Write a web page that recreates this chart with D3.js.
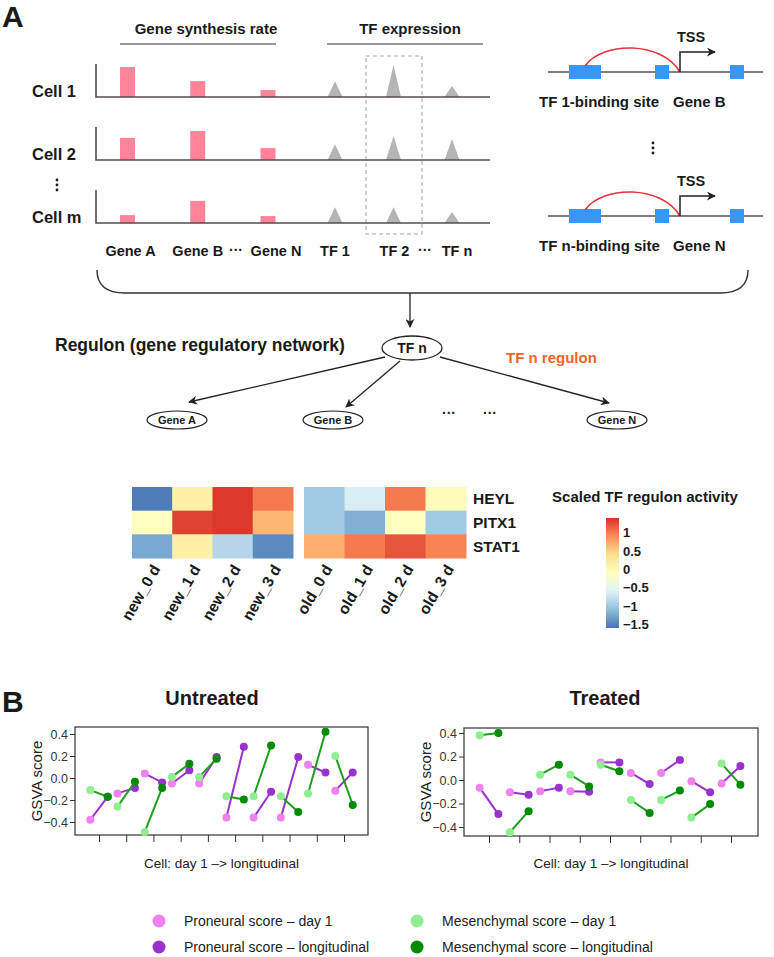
<!DOCTYPE html>
<html>
<head>
<meta charset="utf-8">
<script src="https://cdn.jsdelivr.net/npm/d3@7"></script>
<style>
  body { margin: 0; background: #fff; }
  svg text { font-family: "Liberation Sans", Arial, Helvetica, sans-serif; }
</style>
</head>
<body>
<svg id="fig" width="774" height="957"></svg>
<script>
// ---------- data ----------
var cells = ["Cell 1", "Cell 2", "Cell m"];
var genes = ["Gene A", "Gene B", "Gene N"];
var tfs = ["TF 1", "TF 2", "TF n"];
// relative heights (0-1) per cell
var geneRate = [[0.91, 0.48, 0.21], [0.67, 0.88, 0.36], [0.24, 0.67, 0.21]];
var tfExpr = [[0.48, 0.97, 0.33], [0.48, 0.73, 0.64], [0.48, 0.48, 0.33]];

var netTargets = ["Gene A", "Gene B", "Gene N"];

var hmRows = ["HEYL", "PITX1", "STAT1"];
var hmNewCols = ["new_0 d", "new_1 d", "new_2 d", "new_3 d"];
var hmOldCols = ["old_0 d", "old_1 d", "old_2 d", "old_3 d"];
var hmNew = [[-1.55, 0.15, 1.35, 1.0], [-0.1, 1.3, 1.35, 0.65], [-1.25, 0.15, -0.88, -1.46]];
var hmOld = [[-1.0, -0.65, 1.0, -0.05], [-1.0, -1.2, -0.1, -1.0], [0.7, 1.0, 1.2, 0.95]];
var hmTicks = [1, 0.5, 0, -0.5, -1, -1.5];
var hmPalette = ["#4575B4", "#91BFDB", "#E0F3F8", "#FFFFBF", "#FEE090", "#FC8D59", "#D73027"];

var gsvaTicks = [-0.4, -0.2, 0, 0.2, 0.4];
// untreated: 10 cells
var unPN1 = [-0.38, -0.14, 0.04, -0.05, -0.05, -0.36, -0.36, -0.36, 0.12, -0.115];
var unPNL = [-0.17, -0.09, -0.04, 0.07, 0.19, 0.285, -0.125, 0.19, 0.05, 0.05];
var unMS1 = [-0.11, -0.26, -0.49, 0.01, 0.01, -0.165, -0.165, -0.165, -0.14, 0.2];
var unMSL = [-0.17, -0.035, -0.09, 0.13, 0.175, -0.195, 0.295, -0.31, 0.42, -0.245];
// treated: 9 cells
var trPN1 = [-0.065, -0.105, -0.095, -0.095, 0.15, 0.06, 0.06, -0.01, -0.03];
var trPNL = [-0.29, -0.125, -0.065, -0.10, 0.15, -0.035, 0.17, -0.105, 0.12];
var trMS1 = [0.38, -0.445, 0.045, 0.045, 0.13, -0.17, -0.17, -0.32, 0.14];
var trMSL = [0.40, -0.265, 0.13, -0.055, 0.075, -0.28, -0.09, -0.205, -0.04];

var legendLabels = ["Proneural score \u2013 day 1", "Proneural score \u2013 longitudinal",
  "Mesenchymal score \u2013 day 1", "Mesenchymal score \u2013 longitudinal"];
var legendColors = ["#ee82ee", "#9932cc", "#90ee90", "#008b00"];

// ---------- setup ----------
var svg = d3.select("#fig");
var ink = "#1a1a1a";

var defs = svg.append("defs");
defs.append("marker")
  .attr("id", "arr")
  .attr("viewBox", "0 0 10 10")
  .attr("refX", 9).attr("refY", 5)
  .attr("markerWidth", 9).attr("markerHeight", 9)
  .attr("markerUnits", "userSpaceOnUse")
  .attr("orient", "auto")
  .append("path").attr("d", "M0,0 L10,5 L0,10 L3,5 Z").attr("fill", "#222");

function bold(sel, size) {
  return sel.attr("font-weight", "bold").attr("font-size", size).attr("fill", ink);
}

// ---------- panel A: bars ----------
bold(svg.append("text").attr("x", 2).attr("y", 27).text("A"), 30);

bold(svg.append("text").attr("x", 206).attr("y", 34).attr("text-anchor", "middle")
  .text("Gene synthesis rate"), 15);
bold(svg.append("text").attr("x", 410).attr("y", 34).attr("text-anchor", "middle")
  .text("TF expression"), 15);
svg.append("line").attr("x1", 120).attr("x2", 276).attr("y1", 44).attr("y2", 44)
  .attr("stroke", "#333").attr("stroke-width", 1.2);
svg.append("line").attr("x1", 327).attr("x2", 483).attr("y1", 44).attr("y2", 44)
  .attr("stroke", "#333").attr("stroke-width", 1.2);

var rowY = d3.scalePoint().domain(cells).range([97, 223]);
var geneX = d3.scalePoint().domain(genes).range([127.5, 268]);
var tfX = d3.scalePoint().domain(tfs).range([335, 452]);
var hY = d3.scaleLinear().domain([0, 1]).range([0, 33]);

// dashed box around TF 2
svg.append("rect").attr("x", 366).attr("y", 56).attr("width", 56).attr("height", 178)
  .attr("fill", "none").attr("stroke", "#aaa").attr("stroke-width", 1.1)
  .attr("stroke-dasharray", "4,3");

cells.forEach(function(c, i) {
  var y0 = rowY(c);
  var g = svg.append("g");
  g.selectAll("rect.bar").data(geneRate[i]).enter().append("rect")
    .attr("x", function(d, j) { return geneX(genes[j]) - 7.5; })
    .attr("y", function(d) { return y0 - hY(d); })
    .attr("width", 15)
    .attr("height", function(d) { return hY(d); })
    .attr("fill", "#ff8399");
  g.selectAll("path.tri").data(tfExpr[i]).enter().append("path")
    .attr("d", function(d, j) {
      var cx = tfX(tfs[j]);
      return "M" + (cx - 7.5) + "," + y0 + " L" + cx + "," + (y0 - hY(d)) + " L" + (cx + 7.5) + "," + y0 + " Z";
    })
    .attr("fill", "#b5b5b5");
  g.append("path").attr("d", "M96," + (y0 - 33) + " V" + y0 + " H490")
    .attr("fill", "none").attr("stroke", "#554c4c").attr("stroke-width", 1.6);
  bold(g.append("text").attr("x", 32).attr("y", y0 - 0.5).text(c), 16.5);
});
// vertical dots between Cell 2 and Cell m
[180, 185, 190].forEach(function(y) {
  svg.append("circle").attr("cx", 57).attr("cy", y).attr("r", 1.4).attr("fill", ink);
});

// item labels
var labelY = 256;
genes.forEach(function(gn, j) {
  var off = [3, 0, 8][j];
  bold(svg.append("text").attr("x", geneX(gn) + off).attr("y", labelY)
    .attr("text-anchor", "middle").text(gn), 14.5);
});
tfs.forEach(function(t, j) {
  var off = [0, 1, 5][j];
  bold(svg.append("text").attr("x", tfX(t) + off).attr("y", labelY)
    .attr("text-anchor", "middle").text(t), 14.5);
});
bold(svg.append("text").attr("x", 236).attr("y", labelY - 1).attr("text-anchor", "middle").text("\u00b7\u00b7\u00b7"), 14);
bold(svg.append("text").attr("x", 425).attr("y", labelY - 1).attr("text-anchor", "middle").text("\u00b7\u00b7\u00b7"), 14);

// ---------- panel A: loci ----------
function drawLocus(y0, tfLabel, geneLabel) {
  var g = svg.append("g");
  g.append("line").attr("x1", 548).attr("x2", 763).attr("y1", y0).attr("y2", y0)
    .attr("stroke", "#555").attr("stroke-width", 1.5);
  [[569, 32], [655, 14], [730, 14]].forEach(function(b) {
    g.append("rect").attr("x", b[0]).attr("y", y0 - 7).attr("width", b[1]).attr("height", 14)
      .attr("fill", "#3797f5");
  });
  g.append("path")
    .attr("d", "M585," + (y0 - 6) + " C603," + (y0 - 31) + " 662," + (y0 - 31) + " 680," + y0)
    .attr("fill", "none").attr("stroke", "#e8313a").attr("stroke-width", 1.5);
  g.append("path").attr("d", "M680," + y0 + " V" + (y0 - 20) + " H715")
    .attr("fill", "none").attr("stroke", "#222").attr("stroke-width", 1.5)
    .attr("marker-end", "url(#arr)");
  bold(g.append("text").attr("x", 691).attr("y", y0 - 30).attr("text-anchor", "middle").text("TSS"), 14.5);
  bold(g.append("text").attr("x", 539).attr("y", y0 + 35).text(tfLabel), 15);
  bold(g.append("text").attr("x", 673).attr("y", y0 + 35).text(geneLabel), 15);
}
drawLocus(72, "TF 1-binding site", "Gene B");
drawLocus(216, "TF n-binding site", "Gene N");
[143, 148, 153].forEach(function(y) {
  svg.append("circle").attr("cx", 653).attr("cy", y).attr("r", 1.4).attr("fill", ink);
});

// brace + arrow
svg.append("path")
  .attr("d", "M97,270 Q97,293 125,293 L720,293 Q748,293 748,270")
  .attr("fill", "none").attr("stroke", "#333").attr("stroke-width", 1.4);
svg.append("line").attr("x1", 410).attr("x2", 410).attr("y1", 293).attr("y2", 327)
  .attr("stroke", "#222").attr("stroke-width", 1.3).attr("marker-end", "url(#arr)");

// ---------- regulon network ----------
bold(svg.append("text").attr("x", 55).attr("y", 351).text("Regulon (gene regulatory network)"), 17.5);
svg.append("ellipse").attr("cx", 412).attr("cy", 348).attr("rx", 30).attr("ry", 12)
  .attr("fill", "#fff").attr("stroke", "#222").attr("stroke-width", 1.3);
bold(svg.append("text").attr("x", 412).attr("y", 353).attr("text-anchor", "middle").text("TF n"), 14);
bold(svg.append("text").attr("x", 506).attr("y", 363).text("TF n regulon"), 15).attr("fill", "#f26522");

var nodeX = d3.scaleOrdinal().domain(netTargets).range([177, 333, 617]);
var arrowFrom = [[385, 357], [400, 361], [440, 357]];
var arrowTo = [[189, 402], [346, 407], [609, 403]];
netTargets.forEach(function(n, i) {
  svg.append("line")
    .attr("x1", arrowFrom[i][0]).attr("y1", arrowFrom[i][1])
    .attr("x2", arrowTo[i][0]).attr("y2", arrowTo[i][1])
    .attr("stroke", "#222").attr("stroke-width", 1.3).attr("marker-end", "url(#arr)");
  svg.append("ellipse").attr("cx", nodeX(n)).attr("cy", 420).attr("rx", 30).attr("ry", 9)
    .attr("fill", "#fff").attr("stroke", "#222").attr("stroke-width", 1.2);
  bold(svg.append("text").attr("x", nodeX(n)).attr("y", 424).attr("text-anchor", "middle").text(n), 11);
});
bold(svg.append("text").attr("x", 449).attr("y", 418).attr("text-anchor", "middle").text("\u00b7\u00b7\u00b7"), 14);
bold(svg.append("text").attr("x", 490).attr("y", 418).attr("text-anchor", "middle").text("\u00b7\u00b7\u00b7"), 14);

// ---------- heatmap ----------
var hmLo = -1.6, hmHi = 1.4;
var hmColor = d3.scaleLinear()
  .domain(d3.range(7).map(function(i) { return hmLo + i * (hmHi - hmLo) / 6; }))
  .range(hmPalette)
  .interpolate(d3.interpolateRgb);

var rowScale = d3.scaleBand().domain(hmRows).range([487, 558]);
var newX = d3.scaleBand().domain(hmNewCols).range([132, 293]);
var oldX = d3.scaleBand().domain(hmOldCols).range([304, 466]);

function drawBlock(cols, xs, vals) {
  var cellsData = [];
  hmRows.forEach(function(r, i) {
    cols.forEach(function(c, j) { cellsData.push({ r: r, c: c, v: vals[i][j] }); });
  });
  svg.append("g").selectAll("rect").data(cellsData).enter().append("rect")
    .attr("x", function(d) { return xs(d.c); })
    .attr("y", function(d) { return rowScale(d.r); })
    .attr("width", xs.bandwidth() + 0.5)
    .attr("height", rowScale.bandwidth() + 0.5)
    .attr("fill", function(d) { return hmColor(d.v); });
  svg.append("g").selectAll("text").data(cols).enter().append("text")
    .attr("transform", function(c) {
      return "translate(" + (xs(c) + xs.bandwidth() / 2 + 4) + ",566) rotate(-60)";
    })
    .attr("text-anchor", "end").attr("dy", "0.35em")
    .attr("font-weight", "bold").attr("font-size", 15.5).attr("fill", ink)
    .text(function(c) { return c; });
}
drawBlock(hmNewCols, newX, hmNew);
drawBlock(hmOldCols, oldX, hmOld);

svg.append("g").selectAll("text").data(hmRows).enter().append("text")
  .attr("x", 473).attr("y", function(r) { return rowScale(r) + rowScale.bandwidth() / 2; })
  .attr("dy", "0.36em").attr("font-weight", "bold").attr("font-size", 15.5).attr("fill", ink)
  .text(function(r) { return r; });

// colour key
bold(svg.append("text").attr("x", 645).attr("y", 502).attr("text-anchor", "middle")
  .text("Scaled TF regulon activity"), 15);
var keyY = d3.scaleLinear().domain([hmLo, hmHi]).range([628, 518]);
var grad = defs.append("linearGradient").attr("id", "keygrad")
  .attr("x1", 0).attr("y1", 1).attr("x2", 0).attr("y2", 0);
d3.range(0, 1.0001, 0.05).forEach(function(t) {
  grad.append("stop").attr("offset", t).attr("stop-color", hmColor(hmLo + t * (hmHi - hmLo)));
});
svg.append("rect").attr("x", 606).attr("y", 518).attr("width", 13).attr("height", 110)
  .attr("fill", "url(#keygrad)");
svg.append("g").selectAll("text").data(hmTicks).enter().append("text")
  .attr("x", 623).attr("y", function(v) { return keyY(v); }).attr("dy", "0.36em")
  .attr("font-weight", "bold").attr("font-size", 13).attr("fill", ink)
  .text(function(v) { return d3.format("")(v).replace("-", "\u2212"); });

// ---------- panel B ----------
bold(svg.append("text").attr("x", 2).attr("y", 712).text("B"), 30);

function drawGsva(o) {
  var x = d3.scaleLinear().domain([1, o.n]).range(o.xr);
  var y = d3.scaleLinear().domain([-0.4, 0.4]).range(o.yr);
  var g = svg.append("g");
  bold(g.append("text").attr("x", o.titleX).attr("y", 705)
    .attr("text-anchor", "middle").text(o.title), 20);
  g.append("rect").attr("x", o.box[0]).attr("y", o.box[1])
    .attr("width", o.box[2] - o.box[0]).attr("height", o.box[3] - o.box[1])
    .attr("fill", "none").attr("stroke", "#333").attr("stroke-width", 1.2);

  var ya = g.append("g").attr("transform", "translate(" + o.box[0] + ",0)")
    .call(d3.axisLeft(y).tickValues(gsvaTicks).tickSize(5).tickPadding(2)
      .tickFormat(d3.format(".1f")));
  ya.select(".domain").remove();
  ya.selectAll("line").attr("stroke", "#333");
  ya.selectAll("text").attr("font-size", 12.5).attr("fill", "#333")
    .attr("font-family", "\"Liberation Sans\", Arial, sans-serif");

  var xa = g.append("g").attr("transform", "translate(0," + o.box[3] + ")")
    .call(d3.axisBottom(x).tickValues(d3.range(1, o.n + 1)).tickSize(7).tickFormat(""));
  xa.select(".domain").remove();
  xa.selectAll("line").attr("stroke", "#333");

  g.append("text")
    .attr("transform", "translate(" + (o.box[0] - 38) + "," + ((o.box[1] + o.box[3]) / 2) + ") rotate(-90)")
    .attr("text-anchor", "middle").attr("dy", "0.35em")
    .attr("font-size", 15).attr("fill", "#222").text("GSVA score");
  g.append("text").attr("x", (o.box[0] + o.box[2]) / 2).attr("y", 868)
    .attr("text-anchor", "middle").attr("font-size", 13.5).attr("fill", "#222")
    .text("Cell: day 1 \u2013> longitudinal");

  var pairs = [
    { a: o.pn1, b: o.pnl, ca: legendColors[0], cb: legendColors[1], line: "#9932cc" },
    { a: o.ms1, b: o.msl, ca: legendColors[2], cb: legendColors[3], line: "#1e9e1e" }
  ];
  pairs.forEach(function(p) {
    var idx = d3.range(o.n);
    g.append("g").selectAll("line").data(idx).enter().append("line")
      .attr("x1", function(i) { return x(i + 1 - o.off); })
      .attr("x2", function(i) { return x(i + 1 + o.off); })
      .attr("y1", function(i) { return y(p.a[i]); })
      .attr("y2", function(i) { return y(p.b[i]); })
      .attr("stroke", p.line).attr("stroke-width", 2);
    g.append("g").selectAll("circle").data(idx).enter().append("circle")
      .attr("cx", function(i) { return x(i + 1 - o.off); })
      .attr("cy", function(i) { return y(p.a[i]); })
      .attr("r", 4).attr("fill", p.ca);
    g.append("g").selectAll("circle").data(idx).enter().append("circle")
      .attr("cx", function(i) { return x(i + 1 + o.off); })
      .attr("cy", function(i) { return y(p.b[i]); })
      .attr("r", 4).attr("fill", p.cb);
  });
}

drawGsva({ title: "Untreated", titleX: 212, n: 10, box: [75, 727, 368, 835], xr: [99, 344], yr: [822, 734],
  off: 0.32, pn1: unPN1, pnl: unPNL, ms1: unMS1, msl: unMSL });
drawGsva({ title: "Treated", titleX: 605, n: 9, box: [464, 728, 758, 836], xr: [489, 731], yr: [827, 733],
  off: 0.31, pn1: trPN1, pnl: trPNL, ms1: trMS1, msl: trMSL });

// legend
var leg = svg.append("g");
legendLabels.forEach(function(l, i) {
  var cx = i < 2 ? 159 : 417;
  var cy = i % 2 === 0 ? 921 : 947;
  leg.append("circle").attr("cx", cx).attr("cy", cy).attr("r", 6.5).attr("fill", legendColors[i]);
  leg.append("text").attr("x", cx + 25).attr("y", cy).attr("dy", "0.35em")
    .attr("font-size", 14).attr("fill", "#222").text(l);
});
</script>
</body>
</html>
